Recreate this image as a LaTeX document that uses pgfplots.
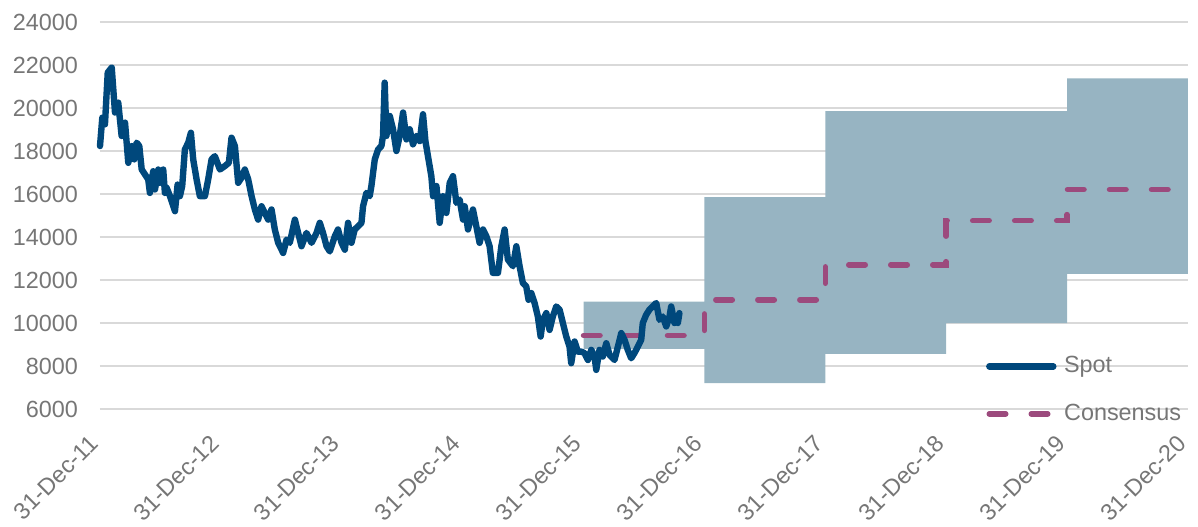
\documentclass[border=0pt]{standalone}
\usepackage{fontspec}
\setmainfont{Liberation Sans}
\usepackage{pgfplots}
\pgfplotsset{compat=1.18}
\definecolor{spotc}{HTML}{00487C}
\definecolor{consc}{HTML}{9C4A7D}
\definecolor{bandc}{HTML}{97B4C2}
\definecolor{gridc}{HTML}{D9D9D9}
\definecolor{labc}{HTML}{767676}

\pgfplotstableread{
t v
0.000 18230
0.019 19550
0.041 19240
0.064 21650
0.097 21880
0.110 20870
0.124 19790
0.151 20250
0.165 19470
0.179 18700
0.207 19320
0.234 17450
0.262 18230
0.283 17610
0.303 18390
0.325 18230
0.345 17140
0.372 16910
0.399 16680
0.413 16050
0.440 17060
0.455 16210
0.482 17140
0.496 16520
0.523 17140
0.537 16050
0.551 16290
0.579 15900
0.620 15200
0.642 16440
0.661 15900
0.680 16370
0.702 18070
0.730 18390
0.752 18850
0.771 17610
0.799 16680
0.826 15900
0.868 15900
0.895 16680
0.923 17610
0.950 17760
0.992 17140
1.033 17300
1.066 17450
1.088 18620
1.116 18230
1.143 16520
1.171 16760
1.198 17140
1.226 16680
1.254 15900
1.281 15280
1.308 14810
1.336 15430
1.364 15120
1.391 14810
1.419 15280
1.446 14350
1.474 13730
1.515 13260
1.543 13880
1.570 13730
1.612 14810
1.639 14190
1.667 13570
1.708 14190
1.750 13730
1.791 14190
1.818 14660
1.845 14190
1.874 13570
1.901 13330
1.942 14030
1.969 14350
1.998 13730
2.025 13410
2.052 14660
2.080 13730
2.107 14350
2.135 14500
2.163 14660
2.176 15430
2.204 16050
2.231 15900
2.245 16370
2.273 17610
2.300 18070
2.328 18230
2.341 18700
2.355 21180
2.369 18700
2.397 19630
2.424 19010
2.452 18000
2.479 18700
2.507 19790
2.535 18540
2.562 19010
2.589 18310
2.617 18700
2.645 18460
2.672 19710
2.692 18460
2.713 17760
2.741 16830
2.755 15900
2.783 16370
2.810 14660
2.837 15900
2.865 15120
2.893 16520
2.920 16830
2.948 15590
2.975 15740
3.003 14810
3.017 15430
3.044 14350
3.085 15280
3.113 14500
3.140 13730
3.168 14350
3.196 14030
3.223 13570
3.250 12330
3.292 12330
3.320 13570
3.347 14350
3.374 12950
3.416 12640
3.444 13570
3.471 12640
3.498 11860
3.526 11700
3.545 11080
3.568 11390
3.595 10930
3.622 10300
3.645 9370
3.664 10150
3.692 10460
3.719 9680
3.746 10300
3.774 10770
3.802 10620
3.829 10000
3.857 9370
3.884 8900
3.898 8130
3.926 9140
3.953 8670
3.981 8670
4.008 8600
4.036 8280
4.064 8750
4.091 8440
4.105 7820
4.132 8750
4.159 8440
4.188 9060
4.215 8520
4.256 8280
4.284 8900
4.312 9530
4.339 9220
4.366 8750
4.394 8360
4.421 8600
4.449 8900
4.477 9220
4.490 10000
4.518 10380
4.545 10620
4.573 10770
4.601 10930
4.628 10150
4.655 10300
4.684 9840
4.711 10300
4.725 10770
4.752 10000
4.766 10300
4.780 10000
4.793 10460
}\spotdata

\pgfplotstableread{
t v
4 11000
5 11000
5 15850
6 15850
6 19850
8 19850
8 21380
9 21380
9 12290
8 12290
8 10000
7 10000
7 8560
6 8560
6 7200
5 7200
5 8800
4 8800
}\banddata

\pgfplotstableread{
t v
4 9420
5 11080
6 12710
7 14760
8 16210
9 16210
}\consdata

\begin{document}
\fontsize{11.7}{14}\selectfont
\begin{tikzpicture}
\begin{axis}[
  at={(0pt,0pt)}, anchor=south west,
  scale only axis, width=544pt, height=193.5pt,
  xmin=0, xmax=9, ymin=6000, ymax=24000,
  clip=false,
  scaled y ticks=false,
  axis line style={draw=none},
  major tick length=0pt,
  tick style={draw=none},
  ymajorgrids, xmajorgrids=false,
  grid style={gridc, line width=0.75pt},
  ytick={6000,8000,10000,12000,14000,16000,18000,20000,22000,24000},
  yticklabels={6000,8000,10000,12000,14000,16000,18000,20000,22000,24000},
  xtick={0,1,2,3,4,5,6,7,8,9},
  xticklabels={31-Dec-11,31-Dec-12,31-Dec-13,31-Dec-14,31-Dec-15,31-Dec-16,31-Dec-17,31-Dec-18,31-Dec-19,31-Dec-20},
  every tick label/.append style={font=\fontsize{11.7}{14}\selectfont, text=labc},
  yticklabel style={anchor=east, inner sep=0pt, xshift=-10.85pt},
  xticklabel style={xshift=-3pt, yshift=-15pt, rotate=45, anchor=east, inner sep=0pt},
  legend cell align=left,
  reverse legend,
  legend image code/.code={\draw[#1] (0pt,0pt) -- (32pt,0pt);},
  legend style={draw=none, fill=none, inner sep=0pt, outer sep=0pt,
    at={(axis cs:7.33,6880)}, anchor=west,
    nodes={inner sep=0pt},
    row sep=13.8pt,
    font=\fontsize{11.7}{14}\selectfont, text=labc,
    /tikz/every odd column/.append style={column sep=3.8pt}},
]
\addplot[fill=bandc, draw=none, forget plot] table[x=t,y=v] {\banddata} -- cycle;
\addplot[const plot, consc, line width=2.8pt, line cap=round, dash pattern=on 8.2pt off 12.8pt] table[x=t,y=v] {\consdata};
\addlegendentry{Consensus}
\addplot[spotc, line width=3.2pt, line join=round, line cap=round] table[x=t,y=v] {\spotdata};
\addlegendentry{Spot}
\end{axis}
\pgfresetboundingbox
\path (-50pt,-58.5pt) rectangle (549pt,204.5pt);
\end{tikzpicture}
\end{document}
